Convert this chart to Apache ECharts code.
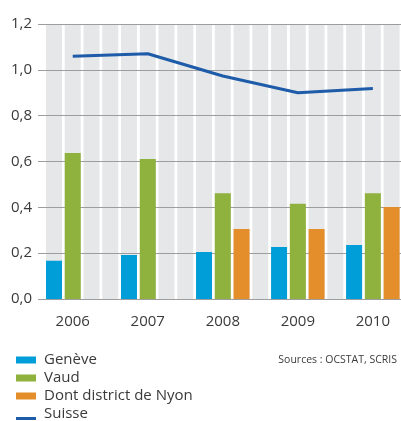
<!DOCTYPE html>
<html>
<head>
<meta charset="utf-8">
<script src="https://cdn.jsdelivr.net/npm/echarts@6/dist/echarts.min.js"></script>
<style>html,body{margin:0;padding:0;background:#fff;}#c{width:401px;height:421px;}</style>
</head>
<body>
<div id="c"></div>
<script>
var years = ['2006', '2007', '2008', '2009', '2010'];
var geneve = [0.167, 0.192, 0.205, 0.227, 0.236];
var vaud = [0.637, 0.611, 0.462, 0.416, 0.462];
var nyon = [null, null, 0.305, 0.305, 0.401];
var suisse = [1.059, 1.070, 0.973, 0.900, 0.919];
var yTicks = [0, 0.2, 0.4, 0.6, 0.8, 1.0, 1.2];

// 4 slots per year (Genève, Vaud, Nyon, gap); the last gap slot falls outside the picture
var SLOTS = 4;
var NSLOTS = years.length * SLOTS - 1;
function slotted(arr, offset) {
  var out = [];
  for (var i = 0; i < NSLOTS; i++) out.push(null);
  arr.forEach(function (v, i) { out[i * SLOTS + offset] = v; });
  return out;
}
var cats = [];
var stripes = [];
for (var i = 0; i < NSLOTS; i++) {
  cats.push(i % SLOTS === 1 ? years[Math.floor(i / SLOTS)] : '');
  stripes.push(yTicks[yTicks.length - 1]);
}

var font = 'Open Sans';
var chart = echarts.init(document.getElementById('c'));
chart.setOption({
  animation: false,
  textStyle: { fontFamily: font },
  grid: [
    { left: 38, right: 0, top: 24, bottom: 122 },
    { left: 44.6, right: 0, top: 24, bottom: 122 }
  ],
  xAxis: [
    { gridIndex: 0, type: 'value', show: false, min: 0, max: 1 },
    {
      gridIndex: 1, type: 'category', data: cats,
      axisLine: { show: false }, axisTick: { show: false },
      axisLabel: { interval: 0, margin: 15, fontSize: 15, color: '#3a3a3a', fontFamily: font }
    }
  ],
  yAxis: [
    {
      gridIndex: 0, type: 'value', min: 0, max: 1.2, interval: 0.2, z: 2,
      axisLine: { show: false }, axisTick: { show: false },
      splitLine: { lineStyle: { color: '#9d9d9d', width: 1 } },
      axisLabel: {
        margin: 6, fontSize: 15, color: '#3a3a3a', fontFamily: font,
        padding: [0, 0, 7, 0],
        formatter: function (v) { return v.toFixed(1).replace('.', ','); }
      }
    },
    { gridIndex: 1, type: 'value', min: 0, max: 1.2, show: false }
  ],
  legend: [
    {
      orient: 'vertical', left: 16, top: 351, padding: 0, itemGap: 0,
      itemWidth: 20, itemHeight: 7, icon: 'rect',
      textStyle: { fontSize: 15, color: '#3a3a3a', lineHeight: 18, fontFamily: font, padding: [0, 0, 0, 3] },
      data: ['Genève', 'Vaud', 'Dont district de Nyon']
    },
    {
      orient: 'vertical', left: 16, top: 405, padding: 0,
      itemWidth: 20, itemHeight: 12, icon: 'path://M0 0M0 9L20 9L20 12L0 12Z',
      textStyle: { fontSize: 15, color: '#3a3a3a', lineHeight: 18, fontFamily: font, padding: [0, 0, 0, 3] },
      data: ['Suisse']
    }
  ],
  graphic: [
    {
      type: 'text', right: 4, top: 355,
      style: { text: 'Sources : OCSTAT, SCRIS', fontSize: 10.5, fill: '#3a3a3a', fontFamily: font }
    }
  ],
  series: [
    {
      name: 'bg', type: 'bar', xAxisIndex: 1, yAxisIndex: 1, data: stripes,
      barWidth: 16, barGap: '-100%', z: 1, silent: true,
      itemStyle: { color: '#e6e7e8' }
    },
    {
      name: 'Genève', type: 'bar', xAxisIndex: 1, yAxisIndex: 1, data: slotted(geneve, 0),
      barWidth: 16, barGap: '-100%', z: 3, itemStyle: { color: '#009ed9' }
    },
    {
      name: 'Vaud', type: 'bar', xAxisIndex: 1, yAxisIndex: 1, data: slotted(vaud, 1),
      barWidth: 16, barGap: '-100%', z: 3, itemStyle: { color: '#8fb13e' }
    },
    {
      name: 'Dont district de Nyon', type: 'bar', xAxisIndex: 1, yAxisIndex: 1, data: slotted(nyon, 2),
      barWidth: 16, barGap: '-100%', z: 3, itemStyle: { color: '#e38e2a' }
    },
    {
      name: 'Suisse', type: 'line', xAxisIndex: 1, yAxisIndex: 1, data: slotted(suisse, 1),
      connectNulls: true, symbol: 'none', z: 4,
      lineStyle: { color: '#1e5ba9', width: 3 }, itemStyle: { color: '#1e5ba9' }
    }
  ]
});
</script>
</body>
</html>
